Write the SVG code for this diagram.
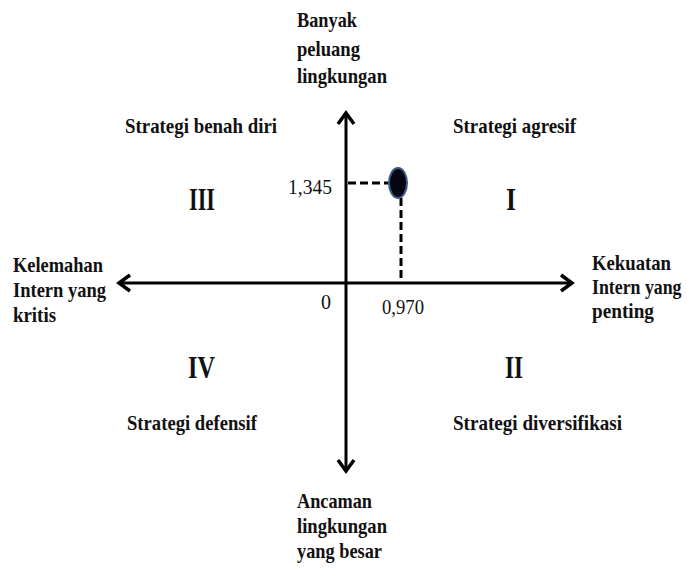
<svg xmlns="http://www.w3.org/2000/svg" width="687" height="569" viewBox="0 0 687 569">
  <defs>
    <style>
      .lbl { font-family: "Liberation Serif", "Times New Roman", serif; font-weight: bold; font-size: 22px; fill: #111; }
      .num { font-family: "Liberation Serif", "Times New Roman", serif; font-size: 20px; fill: #111; }
      .roman { font-family: "Liberation Serif", "Times New Roman", serif; font-weight: bold; font-size: 31px; fill: #111; }
      .axis { stroke: #000; stroke-width: 3; fill: none; }
      .head { stroke: #000; stroke-width: 3.5; fill: none; stroke-linecap: butt; stroke-linejoin: miter; }
      .dash { stroke: #000; stroke-width: 3; stroke-dasharray: 8 4; fill: none; }
    </style>
  </defs>
  <rect width="687" height="569" fill="#fff"/>

  <!-- axes -->
  <g id="connectors">
    <line class="axis" x1="346" y1="114" x2="346" y2="470"/>
    <line class="axis" x1="120" y1="283" x2="571" y2="283"/>
    <polyline class="head" points="338,124 346,113 354,124"/>
    <polyline class="head" points="338,460 346,471 354,460"/>
    <polyline class="head" points="130,275 119,283 130,291"/>
    <polyline class="head" points="561,275 572,283 561,291"/>
    <line class="dash" x1="348" y1="183" x2="390" y2="183"/>
    <line class="dash" x1="401" y1="198" x2="401" y2="282"/>
  </g>

  <!-- position point -->
  <g id="point">
    <ellipse cx="398" cy="183" rx="9" ry="15" fill="#060612" stroke="#3d5a80" stroke-width="2"/>
  </g>

  <!-- axis end labels -->
  <g id="top-label">
    <text class="lbl" x="297" y="27" textLength="60" lengthAdjust="spacingAndGlyphs">Banyak</text>
    <text class="lbl" x="297" y="56" textLength="63" lengthAdjust="spacingAndGlyphs">peluang</text>
    <text class="lbl" x="297" y="83" textLength="90" lengthAdjust="spacingAndGlyphs">lingkungan</text>
  </g>
  <g id="bottom-label">
    <text class="lbl" x="297" y="508" textLength="75" lengthAdjust="spacingAndGlyphs">Ancaman</text>
    <text class="lbl" x="297" y="533" textLength="90" lengthAdjust="spacingAndGlyphs">lingkungan</text>
    <text class="lbl" x="297" y="558" textLength="85" lengthAdjust="spacingAndGlyphs">yang besar</text>
  </g>
  <g id="left-label">
    <text class="lbl" x="13" y="272" textLength="90" lengthAdjust="spacingAndGlyphs">Kelemahan</text>
    <text class="lbl" x="13" y="297" textLength="93" lengthAdjust="spacingAndGlyphs">Intern yang</text>
    <text class="lbl" x="13" y="322" textLength="43" lengthAdjust="spacingAndGlyphs">kritis</text>
  </g>
  <g id="right-label">
    <text class="lbl" x="592" y="270" textLength="79" lengthAdjust="spacingAndGlyphs">Kekuatan</text>
    <!-- condensed horizontally so the line stays inside the right edge -->
    <text class="lbl" transform="translate(592,294) scale(0.81,1)">Intern yang</text>
    <text class="lbl" x="592" y="318" textLength="62" lengthAdjust="spacingAndGlyphs">penting</text>
  </g>

  <!-- quadrants -->
  <g id="quadrant-III">
    <text class="lbl" x="125" y="133" textLength="152" lengthAdjust="spacingAndGlyphs">Strategi benah diri</text>
    <text class="roman" x="189" y="210" textLength="26" lengthAdjust="spacingAndGlyphs">III</text>
  </g>
  <g id="quadrant-I">
    <text class="lbl" x="453" y="133" textLength="123" lengthAdjust="spacingAndGlyphs">Strategi agresif</text>
    <text class="roman" x="506" y="210" textLength="10" lengthAdjust="spacingAndGlyphs">I</text>
  </g>
  <g id="quadrant-IV">
    <text class="roman" x="188" y="378" textLength="27" lengthAdjust="spacingAndGlyphs">IV</text>
    <text class="lbl" x="127" y="430" textLength="130" lengthAdjust="spacingAndGlyphs">Strategi defensif</text>
  </g>
  <g id="quadrant-II">
    <text class="roman" x="505" y="378" textLength="18" lengthAdjust="spacingAndGlyphs">II</text>
    <text class="lbl" x="453" y="430" textLength="169" lengthAdjust="spacingAndGlyphs">Strategi diversifikasi</text>
  </g>

  <!-- values -->
  <g id="values">
    <text class="num" x="288" y="194" textLength="44" lengthAdjust="spacingAndGlyphs">1,345</text>
    <text class="num" x="321" y="309">0</text>
    <text class="num" x="382" y="314" textLength="42" lengthAdjust="spacingAndGlyphs">0,970</text>
  </g>
</svg>
